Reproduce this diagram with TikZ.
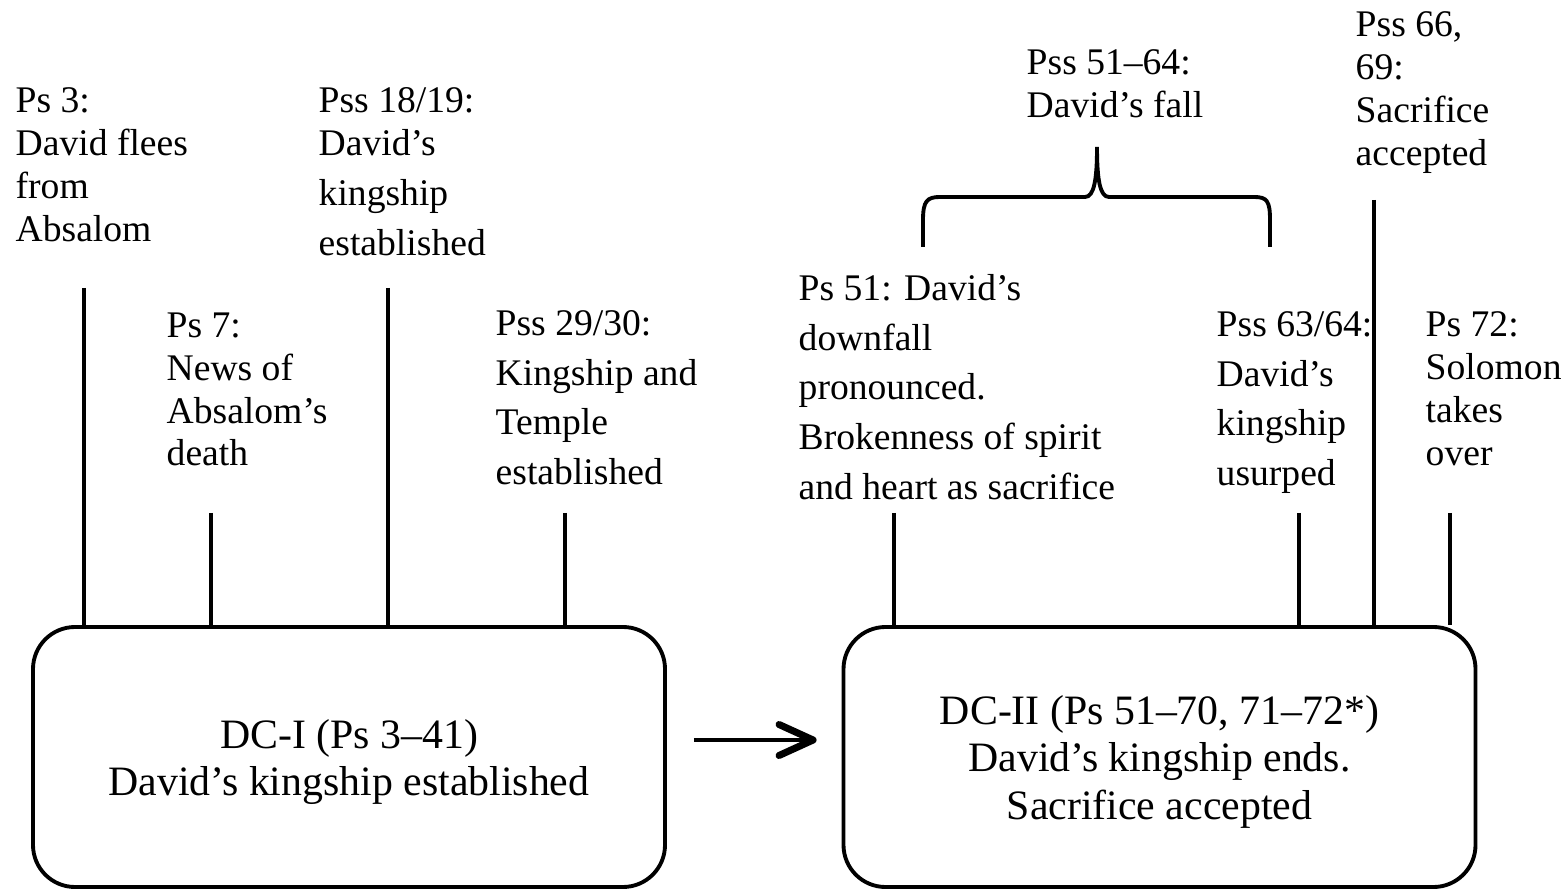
\documentclass[tikz,border=0pt]{standalone}
\usepackage{fontspec}
\setmainfont{Liberation Serif}
\usetikzlibrary{arrows.meta}

\newcommand{\lblfont}{\fontsize{10.7}{12.2}\selectfont}
\newcommand{\lblwidefont}{\fontsize{10.7}{14.1}\selectfont}
\newcommand{\boxfont}{\fontsize{11.9}{13.5}\selectfont}

\tikzset{
  lbl/.style={anchor=north west,inner sep=0pt,align=left,font=\lblfont},
  lblwide/.style={lbl,font=\lblwidefont},
  dcbox/.style={draw,line width=1.1pt,rounded corners=0.42cm,minimum width=6.32cm,
    minimum height=2.6cm,align=center,font=\boxfont},
  tick/.style={draw,line width=0.9pt},
  arr/.style={draw,line width=1.2pt,-{Straight Barb[length=3.4mm,width=3.1mm,line width=2pt,round]}}
}

\begin{document}
\begin{tikzpicture}
    \useasboundingbox (0,0) rectangle (15.65,-8.90);
    \node[dcbox] (dc1) at (3.49,-7.57) {\rule{0pt}{11pt}DC-I (Ps 3--41)\\David's kingship established};
    \node[dcbox] (dc2) at (11.595,-7.57) {\rule{0pt}{11pt}DC-II (Ps 51--70, 71--72*)\\David's kingship ends.\\Sacrifice accepted};
    \draw [arr, shorten <=0.27cm, shorten >=0.25cm] ([yshift=0.17cm]dc1.east) -- ([yshift=0.17cm]dc2.west);

    \node[lbl] (p3) at (0.15,-0.87) {Ps 3:\\David flees\\from\\Absalom};
    \node[lbl] (p7) at (1.66,-3.12) {Ps 7:\\News of\\Absalom's\\death};
    \node[lbl] (p18) at (3.18,-0.87) {Pss 18/19:\\David's\\[0.07cm]kingship\\[0.07cm]established};
    \node[lblwide] (p29) at (4.95,-3.10) {Pss 29/30:\\Kingship and\\Temple\\established};
    \node[lblwide] (p51) at (7.98,-2.74) {Ps 51: David's\\downfall\\pronounced.\\Brokenness of spirit\\and heart as sacrifice};
    \node[lbl] (p5164) at (10.26,-0.49) {Pss 51--64:\\David's fall};
    \node[lblwide] (p63) at (12.16,-3.11) {Pss 63/64:\\David's\\kingship\\usurped};
    \node[lbl] (p66) at (13.55,-0.11) {Pss 66,\\69:\\Sacrifice\\accepted};
    \node[lbl] (p72) at (14.25,-3.11) {Ps 72:\\Solomon\\takes\\over};

    \coordinate (l3) at (0.84,-2.88);
    \coordinate (l7) at (2.11,-5.13);
    \coordinate (l18) at (3.88,-2.88);
    \coordinate (l29) at (5.65,-5.13);
    \coordinate (l51) at (8.94,-5.13);
    \coordinate (l63) at (12.99,-5.13);
    \coordinate (l66) at (13.74,-2.00);
    \coordinate (l72) at (14.50,-5.13);
    \foreach \c/\b in {l3/dc1,l7/dc1,l18/dc1,l29/dc1,l51/dc2,l63/dc2,l66/dc2,l72/dc2}
        \draw [tick] (\c) -- (\c |- \b.north);

    \draw [line width=1.1pt] (9.23,-2.47) -- (9.23,-2.20) .. controls (9.23,-2.01) and (9.27,-1.97) .. (9.40,-1.97)
        -- (10.85,-1.97) .. controls (10.94,-1.97) and (10.97,-1.80) .. (10.97,-1.47)
        .. controls (10.97,-1.80) and (11.00,-1.97) .. (11.09,-1.97)
        -- (12.54,-1.97) .. controls (12.67,-1.97) and (12.70,-2.01) .. (12.70,-2.20) -- (12.70,-2.47);
\end{tikzpicture}
\end{document}
